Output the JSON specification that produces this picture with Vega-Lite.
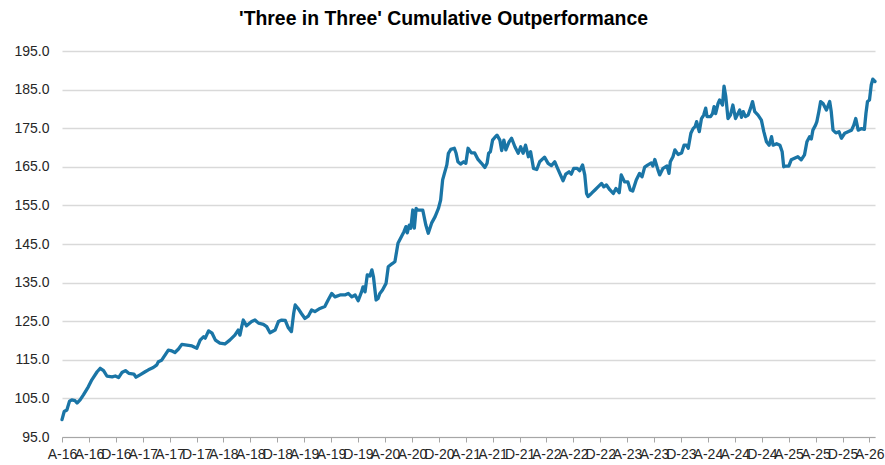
{
  "$schema": "https://vega.github.io/schema/vega-lite/v6.json",
  "width": 813,
  "height": 386,
  "autosize": "none",
  "padding": {"left": 62, "top": 51, "right": 10, "bottom": 28},
  "background": "white",
  "config": {"view": {"stroke": null}, "font": "Liberation Sans"},
  "title": {
    "text": "'Three in Three' Cumulative Outperformance",
    "font": "Liberation Sans",
    "fontSize": 19.4,
    "fontWeight": "bold",
    "color": "#000000",
    "anchor": "middle",
    "frame": "group",
    "dx": -25,
    "offset": 15
  },
  "data": {
    "values": [
      {"date": "2016-04-01", "value": 99.5},
      {"date": "2016-04-11", "value": 101.6},
      {"date": "2016-04-23", "value": 102.0},
      {"date": "2016-05-05", "value": 104.3},
      {"date": "2016-05-15", "value": 104.6},
      {"date": "2016-05-30", "value": 104.4},
      {"date": "2016-06-08", "value": 103.8},
      {"date": "2016-06-22", "value": 104.6},
      {"date": "2016-07-07", "value": 105.9},
      {"date": "2016-07-29", "value": 108.0},
      {"date": "2016-08-14", "value": 109.8},
      {"date": "2016-09-07", "value": 111.9},
      {"date": "2016-09-21", "value": 112.8},
      {"date": "2016-10-06", "value": 112.2},
      {"date": "2016-10-21", "value": 110.8},
      {"date": "2016-11-14", "value": 110.6},
      {"date": "2016-11-28", "value": 110.8},
      {"date": "2016-12-13", "value": 110.4},
      {"date": "2016-12-28", "value": 111.7},
      {"date": "2017-01-13", "value": 112.2},
      {"date": "2017-01-28", "value": 111.5},
      {"date": "2017-02-20", "value": 111.3},
      {"date": "2017-03-02", "value": 110.5},
      {"date": "2017-03-20", "value": 111.1},
      {"date": "2017-04-12", "value": 111.9},
      {"date": "2017-04-27", "value": 112.4},
      {"date": "2017-05-19", "value": 113.0},
      {"date": "2017-06-04", "value": 113.7},
      {"date": "2017-06-11", "value": 114.5},
      {"date": "2017-06-26", "value": 114.9},
      {"date": "2017-07-11", "value": 116.2},
      {"date": "2017-07-26", "value": 117.5},
      {"date": "2017-08-11", "value": 117.3},
      {"date": "2017-08-25", "value": 116.9},
      {"date": "2017-09-10", "value": 117.8},
      {"date": "2017-09-25", "value": 119.0},
      {"date": "2017-10-18", "value": 118.8},
      {"date": "2017-11-10", "value": 118.6},
      {"date": "2017-12-02", "value": 118.0},
      {"date": "2017-12-17", "value": 120.1},
      {"date": "2018-01-02", "value": 121.0},
      {"date": "2018-01-09", "value": 120.6},
      {"date": "2018-01-24", "value": 122.5},
      {"date": "2018-02-09", "value": 121.9},
      {"date": "2018-02-24", "value": 120.1},
      {"date": "2018-03-16", "value": 119.3},
      {"date": "2018-04-08", "value": 119.1},
      {"date": "2018-04-30", "value": 120.1},
      {"date": "2018-05-23", "value": 121.4},
      {"date": "2018-06-07", "value": 122.7},
      {"date": "2018-06-15", "value": 121.4},
      {"date": "2018-06-23", "value": 123.6},
      {"date": "2018-06-30", "value": 125.3},
      {"date": "2018-07-15", "value": 123.8},
      {"date": "2018-08-07", "value": 124.9},
      {"date": "2018-08-22", "value": 125.3},
      {"date": "2018-09-07", "value": 124.5},
      {"date": "2018-09-29", "value": 124.2},
      {"date": "2018-10-14", "value": 123.6},
      {"date": "2018-10-29", "value": 122.0},
      {"date": "2018-11-21", "value": 122.7},
      {"date": "2018-12-06", "value": 124.9},
      {"date": "2018-12-21", "value": 125.3},
      {"date": "2019-01-06", "value": 125.2},
      {"date": "2019-01-19", "value": 123.4},
      {"date": "2019-02-03", "value": 122.3},
      {"date": "2019-02-13", "value": 127.0},
      {"date": "2019-02-20", "value": 129.2},
      {"date": "2019-03-05", "value": 128.3},
      {"date": "2019-03-20", "value": 127.0},
      {"date": "2019-04-05", "value": 125.7},
      {"date": "2019-04-20", "value": 126.3},
      {"date": "2019-05-05", "value": 127.9},
      {"date": "2019-05-20", "value": 127.5},
      {"date": "2019-06-12", "value": 128.3},
      {"date": "2019-07-04", "value": 128.8},
      {"date": "2019-07-19", "value": 130.5},
      {"date": "2019-08-04", "value": 132.2},
      {"date": "2019-08-19", "value": 131.3},
      {"date": "2019-09-11", "value": 131.8},
      {"date": "2019-10-03", "value": 131.8},
      {"date": "2019-10-18", "value": 132.2},
      {"date": "2019-11-03", "value": 131.3},
      {"date": "2019-11-18", "value": 131.8},
      {"date": "2019-12-02", "value": 130.3},
      {"date": "2019-12-17", "value": 132.6},
      {"date": "2019-12-24", "value": 133.9},
      {"date": "2020-01-02", "value": 132.6},
      {"date": "2020-01-12", "value": 137.0},
      {"date": "2020-01-24", "value": 136.7},
      {"date": "2020-02-02", "value": 138.3},
      {"date": "2020-02-09", "value": 136.5},
      {"date": "2020-02-21", "value": 130.5},
      {"date": "2020-03-01", "value": 130.9},
      {"date": "2020-03-09", "value": 132.2},
      {"date": "2020-03-21", "value": 133.1},
      {"date": "2020-04-06", "value": 134.8},
      {"date": "2020-04-16", "value": 139.1},
      {"date": "2020-05-01", "value": 139.8},
      {"date": "2020-05-16", "value": 140.4},
      {"date": "2020-05-30", "value": 145.2},
      {"date": "2020-06-16", "value": 147.1},
      {"date": "2020-06-26", "value": 148.2},
      {"date": "2020-07-05", "value": 149.5},
      {"date": "2020-07-11", "value": 147.9},
      {"date": "2020-07-20", "value": 149.9},
      {"date": "2020-07-27", "value": 149.1},
      {"date": "2020-08-05", "value": 153.8},
      {"date": "2020-08-12", "value": 149.1},
      {"date": "2020-08-20", "value": 154.2},
      {"date": "2020-08-27", "value": 153.8},
      {"date": "2020-09-07", "value": 153.8},
      {"date": "2020-09-19", "value": 153.8},
      {"date": "2020-10-03", "value": 149.9},
      {"date": "2020-10-14", "value": 147.8},
      {"date": "2020-10-29", "value": 150.4},
      {"date": "2020-11-14", "value": 152.1},
      {"date": "2020-11-29", "value": 154.2},
      {"date": "2020-12-09", "value": 156.4},
      {"date": "2020-12-18", "value": 161.6},
      {"date": "2020-12-28", "value": 163.7},
      {"date": "2021-01-06", "value": 165.5},
      {"date": "2021-01-13", "value": 168.5},
      {"date": "2021-01-24", "value": 169.5},
      {"date": "2021-02-09", "value": 169.8},
      {"date": "2021-02-17", "value": 168.5},
      {"date": "2021-02-25", "value": 166.3},
      {"date": "2021-03-09", "value": 165.7},
      {"date": "2021-03-23", "value": 166.3},
      {"date": "2021-04-02", "value": 165.9},
      {"date": "2021-04-12", "value": 169.8},
      {"date": "2021-04-27", "value": 168.6},
      {"date": "2021-05-12", "value": 168.6},
      {"date": "2021-05-27", "value": 166.9},
      {"date": "2021-06-12", "value": 165.9},
      {"date": "2021-06-27", "value": 164.8},
      {"date": "2021-07-07", "value": 165.9},
      {"date": "2021-07-14", "value": 168.5},
      {"date": "2021-07-22", "value": 168.9},
      {"date": "2021-08-01", "value": 171.9},
      {"date": "2021-08-11", "value": 172.6},
      {"date": "2021-08-21", "value": 173.2},
      {"date": "2021-09-03", "value": 171.9},
      {"date": "2021-09-11", "value": 169.2},
      {"date": "2021-09-21", "value": 171.9},
      {"date": "2021-09-30", "value": 169.4},
      {"date": "2021-10-15", "value": 171.5},
      {"date": "2021-10-26", "value": 172.4},
      {"date": "2021-11-10", "value": 170.2},
      {"date": "2021-11-25", "value": 168.5},
      {"date": "2021-12-06", "value": 170.2},
      {"date": "2021-12-17", "value": 168.5},
      {"date": "2021-12-28", "value": 170.6},
      {"date": "2022-01-10", "value": 167.6},
      {"date": "2022-01-20", "value": 168.9},
      {"date": "2022-02-02", "value": 164.6},
      {"date": "2022-02-17", "value": 164.3},
      {"date": "2022-03-02", "value": 166.3},
      {"date": "2022-03-24", "value": 167.5},
      {"date": "2022-04-09", "value": 165.9},
      {"date": "2022-04-24", "value": 165.3},
      {"date": "2022-05-09", "value": 166.3},
      {"date": "2022-05-19", "value": 165.0},
      {"date": "2022-06-01", "value": 163.3},
      {"date": "2022-06-16", "value": 161.4},
      {"date": "2022-06-28", "value": 163.1},
      {"date": "2022-07-13", "value": 163.7},
      {"date": "2022-07-23", "value": 163.1},
      {"date": "2022-08-03", "value": 164.6},
      {"date": "2022-08-18", "value": 164.6},
      {"date": "2022-08-30", "value": 164.0},
      {"date": "2022-09-12", "value": 165.5},
      {"date": "2022-09-22", "value": 162.9},
      {"date": "2022-09-30", "value": 158.1},
      {"date": "2022-10-07", "value": 157.3},
      {"date": "2022-10-22", "value": 158.1},
      {"date": "2022-11-07", "value": 159.0},
      {"date": "2022-11-21", "value": 159.8},
      {"date": "2022-12-07", "value": 160.7},
      {"date": "2022-12-17", "value": 159.8},
      {"date": "2022-12-29", "value": 160.3},
      {"date": "2023-01-14", "value": 159.0},
      {"date": "2023-01-29", "value": 158.1},
      {"date": "2023-02-10", "value": 159.4},
      {"date": "2023-02-25", "value": 158.3},
      {"date": "2023-03-06", "value": 162.9},
      {"date": "2023-03-21", "value": 161.1},
      {"date": "2023-04-05", "value": 161.1},
      {"date": "2023-04-16", "value": 159.0},
      {"date": "2023-04-27", "value": 158.7},
      {"date": "2023-05-13", "value": 161.6},
      {"date": "2023-05-28", "value": 163.3},
      {"date": "2023-06-08", "value": 162.4},
      {"date": "2023-06-20", "value": 164.9},
      {"date": "2023-07-05", "value": 165.5},
      {"date": "2023-07-20", "value": 166.0},
      {"date": "2023-07-27", "value": 165.2},
      {"date": "2023-08-05", "value": 166.9},
      {"date": "2023-08-19", "value": 164.2},
      {"date": "2023-08-27", "value": 162.9},
      {"date": "2023-09-11", "value": 164.6},
      {"date": "2023-09-29", "value": 165.2},
      {"date": "2023-10-08", "value": 163.3},
      {"date": "2023-10-14", "value": 166.3},
      {"date": "2023-10-26", "value": 167.6},
      {"date": "2023-11-04", "value": 169.4},
      {"date": "2023-11-18", "value": 168.2},
      {"date": "2023-12-04", "value": 168.6},
      {"date": "2023-12-15", "value": 170.6},
      {"date": "2023-12-26", "value": 170.6},
      {"date": "2024-01-03", "value": 169.8},
      {"date": "2024-01-15", "value": 173.7},
      {"date": "2024-01-25", "value": 174.9},
      {"date": "2024-02-03", "value": 175.4},
      {"date": "2024-02-10", "value": 176.7},
      {"date": "2024-02-22", "value": 174.1},
      {"date": "2024-03-03", "value": 177.5},
      {"date": "2024-03-13", "value": 178.4},
      {"date": "2024-03-22", "value": 180.2},
      {"date": "2024-03-28", "value": 178.0},
      {"date": "2024-04-13", "value": 178.0},
      {"date": "2024-04-22", "value": 178.8},
      {"date": "2024-04-29", "value": 180.6},
      {"date": "2024-05-06", "value": 178.8},
      {"date": "2024-05-17", "value": 181.4},
      {"date": "2024-05-24", "value": 182.3},
      {"date": "2024-06-06", "value": 181.0},
      {"date": "2024-06-13", "value": 185.9},
      {"date": "2024-06-21", "value": 183.2},
      {"date": "2024-07-01", "value": 177.5},
      {"date": "2024-07-12", "value": 178.4},
      {"date": "2024-07-23", "value": 181.0},
      {"date": "2024-08-04", "value": 177.5},
      {"date": "2024-08-15", "value": 178.8},
      {"date": "2024-08-23", "value": 179.7},
      {"date": "2024-08-31", "value": 177.8},
      {"date": "2024-09-08", "value": 179.3},
      {"date": "2024-09-18", "value": 178.0},
      {"date": "2024-09-30", "value": 178.4},
      {"date": "2024-10-11", "value": 180.2},
      {"date": "2024-10-20", "value": 181.9},
      {"date": "2024-10-30", "value": 179.3},
      {"date": "2024-11-14", "value": 178.4},
      {"date": "2024-11-29", "value": 177.1},
      {"date": "2024-12-10", "value": 174.1},
      {"date": "2024-12-22", "value": 171.5},
      {"date": "2025-01-03", "value": 170.6},
      {"date": "2025-01-14", "value": 172.8},
      {"date": "2025-01-21", "value": 170.6},
      {"date": "2025-02-06", "value": 171.0},
      {"date": "2025-02-21", "value": 170.6},
      {"date": "2025-03-03", "value": 168.9},
      {"date": "2025-03-10", "value": 165.0},
      {"date": "2025-03-21", "value": 165.2},
      {"date": "2025-04-02", "value": 165.2},
      {"date": "2025-04-13", "value": 166.8},
      {"date": "2025-04-28", "value": 167.2},
      {"date": "2025-05-13", "value": 167.6},
      {"date": "2025-05-28", "value": 166.8},
      {"date": "2025-06-12", "value": 168.1},
      {"date": "2025-06-23", "value": 171.5},
      {"date": "2025-07-05", "value": 172.8},
      {"date": "2025-07-13", "value": 172.2},
      {"date": "2025-07-20", "value": 174.5},
      {"date": "2025-08-01", "value": 175.8},
      {"date": "2025-08-07", "value": 176.7},
      {"date": "2025-08-16", "value": 179.3},
      {"date": "2025-08-24", "value": 181.9},
      {"date": "2025-09-04", "value": 181.4},
      {"date": "2025-09-19", "value": 179.7},
      {"date": "2025-10-04", "value": 181.9},
      {"date": "2025-10-11", "value": 179.3},
      {"date": "2025-10-19", "value": 174.5},
      {"date": "2025-11-01", "value": 173.8},
      {"date": "2025-11-15", "value": 174.1},
      {"date": "2025-11-26", "value": 172.4},
      {"date": "2025-12-11", "value": 173.7},
      {"date": "2025-12-26", "value": 174.1},
      {"date": "2026-01-11", "value": 174.5},
      {"date": "2026-01-21", "value": 175.8},
      {"date": "2026-01-30", "value": 177.5},
      {"date": "2026-02-10", "value": 174.5},
      {"date": "2026-02-25", "value": 174.9},
      {"date": "2026-03-10", "value": 174.7},
      {"date": "2026-03-17", "value": 178.8},
      {"date": "2026-03-24", "value": 181.9},
      {"date": "2026-04-02", "value": 182.3},
      {"date": "2026-04-10", "value": 186.2},
      {"date": "2026-04-17", "value": 187.7},
      {"date": "2026-04-27", "value": 187.1}
    ]
  },
  "mark": {"type": "line", "color": "#1a75a6", "strokeWidth": 3.3, "strokeJoin": "round", "strokeCap": "round"},
  "encoding": {
    "x": {
      "field": "date",
      "type": "temporal",
      "scale": {
        "type": "utc",
        "domain": [
          {"year": 2016, "month": 4, "date": 1, "utc": true},
          {"year": 2026, "month": 4, "date": 27, "utc": true}
        ]
      },
      "axis": {
        "title": null,
        "grid": false,
        "values": [
          {"year": 2016, "month": 4, "date": 1, "utc": true},
          {"year": 2016, "month": 8, "date": 1, "utc": true},
          {"year": 2016, "month": 12, "date": 1, "utc": true},
          {"year": 2017, "month": 4, "date": 1, "utc": true},
          {"year": 2017, "month": 8, "date": 1, "utc": true},
          {"year": 2017, "month": 12, "date": 1, "utc": true},
          {"year": 2018, "month": 4, "date": 1, "utc": true},
          {"year": 2018, "month": 8, "date": 1, "utc": true},
          {"year": 2018, "month": 12, "date": 1, "utc": true},
          {"year": 2019, "month": 4, "date": 1, "utc": true},
          {"year": 2019, "month": 8, "date": 1, "utc": true},
          {"year": 2019, "month": 12, "date": 1, "utc": true},
          {"year": 2020, "month": 4, "date": 1, "utc": true},
          {"year": 2020, "month": 8, "date": 1, "utc": true},
          {"year": 2020, "month": 12, "date": 1, "utc": true},
          {"year": 2021, "month": 4, "date": 1, "utc": true},
          {"year": 2021, "month": 8, "date": 1, "utc": true},
          {"year": 2021, "month": 12, "date": 1, "utc": true},
          {"year": 2022, "month": 4, "date": 1, "utc": true},
          {"year": 2022, "month": 8, "date": 1, "utc": true},
          {"year": 2022, "month": 12, "date": 1, "utc": true},
          {"year": 2023, "month": 4, "date": 1, "utc": true},
          {"year": 2023, "month": 8, "date": 1, "utc": true},
          {"year": 2023, "month": 12, "date": 1, "utc": true},
          {"year": 2024, "month": 4, "date": 1, "utc": true},
          {"year": 2024, "month": 8, "date": 1, "utc": true},
          {"year": 2024, "month": 12, "date": 1, "utc": true},
          {"year": 2025, "month": 4, "date": 1, "utc": true},
          {"year": 2025, "month": 8, "date": 1, "utc": true},
          {"year": 2025, "month": 12, "date": 1, "utc": true},
          {"year": 2026, "month": 4, "date": 1, "utc": true}
        ],
        "labelExpr": "slice(utcFormat(datum.value, '%b'), 0, 1) + '-' + utcFormat(datum.value, '%y')",
        "labelOverlap": false,
        "labelFlush": false,
        "labelBound": false,
        "labelFont": "Liberation Sans",
        "labelFontSize": 14,
        "labelColor": "#262626",
        "labelPadding": 5,
        "domainColor": "#a6a6a6",
        "domainWidth": 1,
        "tickColor": "#a6a6a6",
        "tickSize": 5,
        "tickWidth": 1
      }
    },
    "y": {
      "field": "value",
      "type": "quantitative",
      "scale": {"domain": [95, 195], "nice": false, "zero": false},
      "axis": {
        "title": null,
        "values": [95, 105, 115, 125, 135, 145, 155, 165, 175, 185, 195],
        "format": ".1f",
        "domain": false,
        "ticks": false,
        "grid": true,
        "gridColor": "#d9d9d9",
        "gridWidth": 1.5,
        "labelFont": "Liberation Sans",
        "labelFontSize": 14,
        "labelColor": "#262626",
        "labelPadding": 13
      }
    }
  }
}
